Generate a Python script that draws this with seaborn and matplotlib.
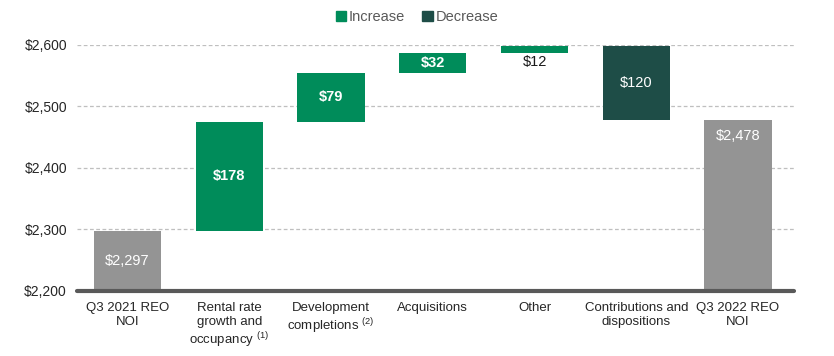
import numpy as np
import pandas as pd
import matplotlib
matplotlib.use("Agg")
import matplotlib.pyplot as plt
import seaborn as sns
from matplotlib.patches import Patch

# donnees du pont NOI
categories = ["Q3 2021 REO\nNOI",
              "Rental rate\ngrowth and\noccupancy $^{(1)}$",
              "Development\ncompletions $^{(2)}$",
              "Acquisitions",
              "Other",
              "Contributions and\ndispositions",
              "Q3 2022 REO\nNOI"]
changes = [2297, 178, 79, 32, 12, -120, 2478]
kinds = ["total", "inc", "inc", "inc", "inc", "dec", "total"]
value_labels = ["$2,297", "$178", "$79", "$32", "$12", "$120", "$2,478"]
y_ticks = [2200, 2300, 2400, 2500, 2600]

colors = {"total": "#949494", "inc": "#008C5A", "dec": "#1E4D47"}

# bas / hauteur de chaque barre flottante
bottoms, heights = [], []
level = 0
for c, k in zip(changes, kinds):
    if k == "total":
        bottoms.append(2200)
        heights.append(c - 2200)
        level = c
    else:
        lo = min(level, level + c)
        bottoms.append(lo)
        heights.append(abs(c))
        level += c

df = pd.DataFrame({"cat": categories, "height": heights, "bottom": bottoms, "kind": kinds})

sns.set_style("white")
plt.rcParams["font.family"] = ["Liberation Sans", "DejaVu Sans"]
plt.rcParams["mathtext.fontset"] = "custom"
plt.rcParams["mathtext.rm"] = "Liberation Sans"
plt.rcParams["mathtext.default"] = "regular"

fig = plt.figure(figsize=(8.34, 3.56), dpi=100)
ax = fig.add_axes([0.092, 0.183, 0.86, 0.691])

sns.barplot(data=df, x="cat", y="height", bottom=df["bottom"].values,
            width=0.66, color="#949494", ax=ax, zorder=3)
for p, k in zip(ax.patches, kinds):
    p.set_facecolor(colors[k])
    p.set_edgecolor("none")

# etiquettes de valeur
for i, (b, h, k, lab) in enumerate(zip(bottoms, heights, kinds, value_labels)):
    if k == "inc" and h < 20:
        ax.text(i, b - 3, lab, ha="center", va="top", fontsize=10.5, color="#1a1a1a")
    elif i == len(kinds) - 1:
        ax.text(i, b + h - 27, lab, ha="center", va="center", fontsize=10.5, color="white")
    else:
        weight = "bold" if k == "inc" else "normal"
        ax.text(i, b + h / 2, lab, ha="center", va="center", fontsize=10.5,
                color="white", fontweight=weight)

ax.set_ylim(2200, 2600)
ax.set_xlim(-0.5, 6.55)
ax.set_yticks(y_ticks)
ax.set_yticklabels([f"${v:,}" for v in y_ticks], fontsize=10, color="#262626")
ax.tick_params(axis="x", labelsize=9.5, colors="#262626", length=0, pad=8)
ax.tick_params(axis="y", length=0, pad=7)
ax.set_xlabel("")
ax.set_ylabel("")

for v in y_ticks[1:]:
    ax.axhline(v, color="#bfbfbf", lw=0.9, ls=(0, (3, 2)), zorder=1)
ax.axhline(2200, color="#595959", lw=3, zorder=4, clip_on=False)
for s in ax.spines.values():
    s.set_visible(False)

handles = [Patch(color=colors["inc"], label="Increase"),
           Patch(color=colors["dec"], label="Decrease")]
fig.legend(handles=handles, loc="center", bbox_to_anchor=(0.5, 0.952), ncol=2,
           frameon=False, fontsize=10.5, handlelength=0.7, handleheight=0.7,
           handletextpad=0.2, columnspacing=1.2, labelcolor="#595959")

fig.savefig("out.png", dpi=100)
